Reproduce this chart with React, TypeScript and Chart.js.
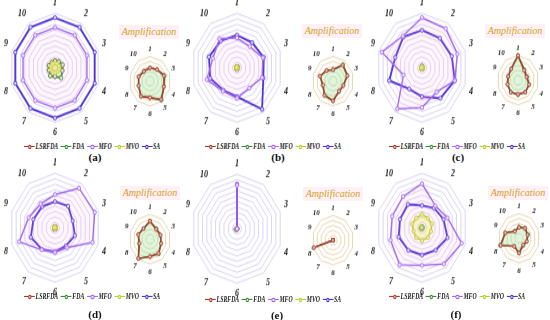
import React, { useEffect, useRef } from "react";
import { Chart, registerables } from "chart.js";
Chart.register(...registerables);

const AXES = ["1", "2", "3", "4", "5", "6", "7", "8", "9", "10"];
const SERIES = ["LSRFDA", "FDA", "MFO", "MVO", "SA"];
const TAGS = ["(a)", "(b)", "(c)", "(d)", "(e)", "(f)"];
const AMP_TITLE = "Amplification";

// (a)
const LSRFDA_A = [1.3, 1.4, 1.7, 1.7, 2.2, 1.6, 1.8, 1.4, 1.4, 1.2];
const FDA_A = [1.3, 1.4, 1.8, 1.7, 2.3, 1.6, 1.8, 1.4, 1.4, 1.2];
const MFO_A = [7.4, 7.4, 7.4, 7.4, 7.4, 7.4, 7.4, 7.4, 7.4, 7.4];
const MVO_A = [0.9, 0.9, 0.9, 0.9, 0.9, 0.9, 0.9, 0.9, 0.9, 0.9];
const SA_A = [9.2, 9.2, 9.2, 9.2, 9.2, 9.2, 9.2, 9.2, 9.2, 9.2];
const AMP_A = 2.4;
// (b)
const LSRFDA_B = [0.14, 0.24, 0.22, 0.16, 0.15, 0.24, 0.21, 0.15, 0.2, 0.16];
const FDA_B = [0.14, 0.25, 0.22, 0.16, 0.15, 0.24, 0.21, 0.16, 0.2, 0.16];
const MFO_B = [5.5, 4.8, 6.0, 5.8, 4.6, 5.6, 5.3, 7.0, 5.6, 6.6];
const MVO_B = [0.15, 0.15, 0.15, 0.15, 0.15, 0.15, 0.15, 0.15, 0.15, 0.15];
const SA_B = [6.0, 5.7, 6.2, 6.1, 9.4, 5.3, 5.1, 6.2, 6.5, 6.1];
const AMP_B = 0.3;
// (c)
const LSRFDA_C = [0.3, 0.15, 0.13, 0.17, 0.18, 0.17, 0.18, 0.16, 0.15, 0.17];
const FDA_C = [0.3, 0.16, 0.14, 0.17, 0.18, 0.18, 0.18, 0.16, 0.15, 0.17];
const MFO_C = [9.2, 8.9, 8.2, 7.6, 5.5, 7.3, 9.3, 4.3, 9.3, 7.2];
const MVO_C = [0.15, 0.15, 0.15, 0.15, 0.15, 0.15, 0.15, 0.15, 0.15, 0.15];
const SA_C = [6.9, 6.7, 6.9, 7.6, 6.9, 5.3, 4.8, 7.6, 6.2, 7.0];
const AMP_C = 0.3;
// (d)
const LSRFDA_D = [0.22, 0.15, 0.16, 0.17, 0.21, 0.21, 0.29, 0.16, 0.18, 0.16];
const FDA_D = [0.22, 0.16, 0.16, 0.17, 0.22, 0.21, 0.29, 0.17, 0.18, 0.16];
const MFO_D = [6.1, 9.0, 9.2, 8.7, 4.5, 4.5, 5.0, 8.3, 6.1, 5.4];
const MVO_D = [0.15, 0.15, 0.15, 0.15, 0.15, 0.15, 0.15, 0.15, 0.15, 0.15];
const SA_D = [4.8, 4.9, 4.1, 4.6, 4.1, 4.4, 4.9, 5.6, 5.0, 4.8];
const AMP_D = 0.3;
// (e)
const LSRFDA_E = [0, 0, 0, 0, 0, 0, 0, 0.29, 0, 0];
const FDA_E = [0, 0, 0, 0, 0, 0, 0, 0.3, 0, 0];
const MFO_E = [8.0, 0, 0, 0, 0, 0, 0, 0, 0, 0];
const MVO_E = [0.1, 0.1, 0.1, 0.1, 0.1, 0.1, 0.1, 0.1, 0.1, 0.1];
const SA_E = [8.2, 0, 0, 0, 0, 0, 0, 0, 0, 0];
const AMP_E = 0.3;
// (f)
const LSRFDA_F = [0.13, 0.15, 0.13, 0.12, 0.1, 0.18, 0.12, 0.28, 0.21, 0.1];
const FDA_F = [0.14, 0.15, 0.14, 0.12, 0.11, 0.18, 0.12, 0.29, 0.21, 0.11];
const MFO_F = [8.1, 5.0, 5.9, 9.2, 8.2, 6.9, 8.4, 7.3, 6.9, 7.1];
const MVO_F = [2.5, 2.2, 2.3, 2.1, 2.2, 2.4, 2.2, 2.0, 2.3, 2.2];
const SA_F = [4.1, 4.5, 5.0, 5.9, 5.1, 5.0, 5.1, 5.4, 5.1, 5.3];
const AMP_F = 0.3;

const COLORS: Record<string, { line: string; point: string; fill: string }> = {
  LSRFDA: { line: "#a5402c", point: "#ffb8cc", fill: "rgba(0,0,0,0)" },
  FDA: { line: "#3d8a3a", point: "#e4f7e0", fill: "rgba(160,225,160,0.35)" },
  MFO: { line: "#a46af2", point: "#efe2ff", fill: "rgba(255,170,230,0.11)" },
  MVO: { line: "#b9cf3a", point: "#fff27a", fill: "rgba(235,240,110,0.4)" },
  SA: { line: "#5433d6", point: "#dcd4ff", fill: "rgba(0,0,0,0)" },
};

const PANELS = [
  { d: { LSRFDA: LSRFDA_A, FDA: FDA_A, MFO: MFO_A, MVO: MVO_A, SA: SA_A }, amp: AMP_A, main: [55, 68], small: [150, 82], title: [149, 32], legend: [24, 147], tag: [95, 157] },
  { d: { LSRFDA: LSRFDA_B, FDA: FDA_B, MFO: MFO_B, MVO: MVO_B, SA: SA_B }, amp: AMP_B, main: [237, 68], small: [333, 82], title: [332, 31], legend: [205, 147], tag: [278, 157] },
  { d: { LSRFDA: LSRFDA_C, FDA: FDA_C, MFO: MFO_C, MVO: MVO_C, SA: SA_C }, amp: AMP_C, main: [422, 68], small: [518, 81], title: [515, 31], legend: [389, 147], tag: [458, 157] },
  { d: { LSRFDA: LSRFDA_D, FDA: FDA_D, MFO: MFO_D, MVO: MVO_D, SA: SA_D }, amp: AMP_D, main: [55, 228], small: [150, 240], title: [150, 193], legend: [24, 297], tag: [95, 314] },
  { d: { LSRFDA: LSRFDA_E, FDA: FDA_E, MFO: MFO_E, MVO: MVO_E, SA: SA_E }, amp: AMP_E, main: [237, 229], small: [333, 241], title: [333, 194], legend: [205, 300], tag: [277, 315] },
  { d: { LSRFDA: LSRFDA_F, FDA: FDA_F, MFO: MFO_F, MVO: MVO_F, SA: SA_F }, amp: AMP_F, main: [422, 228], small: [519, 239], title: [518, 193], legend: [389, 297], tag: [456, 314] },
];

const SERIF = '"Liberation Serif", "DejaVu Serif", serif';
const STRETCH = 1.2;

function makeDataset(name: string, data: number[], small: boolean) {
  const c = COLORS[name];
  const fill = name === "MFO" || name === "MVO" || name === "FDA";
  return {
    label: name,
    data,
    borderColor: c.line,
    backgroundColor: c.fill,
    pointBackgroundColor: c.point,
    pointBorderColor: c.line,
    pointBorderWidth: 0.8,
    pointRadius: small ? 1.5 : 1.7,
    borderWidth: name === "SA" ? 1.8 : 1.4,
    fill,
  };
}

function Radar(props: { cx: number; cy: number; size: number; datasets: any[]; max: number; rings: number; grid: string; fontSize: number; pad: number }) {
  const ref = useRef<HTMLCanvasElement | null>(null);
  const { cx, cy, size, datasets, max, rings, grid, fontSize, pad } = props;
  useEffect(() => {
    const chart = new Chart(ref.current as HTMLCanvasElement, {
      type: "radar",
      data: { labels: AXES, datasets },
      options: {
        responsive: false,
        animation: false,
        maintainAspectRatio: false,
        layout: { padding: 0 },
        plugins: { legend: { display: false }, tooltip: { enabled: false } },
        elements: { line: { tension: 0 } },
        scales: {
          r: {
            min: 0,
            max,
            ticks: { display: false, count: rings + 1 },
            grid: { color: grid, lineWidth: 0.9 },
            angleLines: { display: false },
            pointLabels: {
              padding: pad,
              color: "#222",
              font: { family: SERIF, size: fontSize, style: "italic", weight: "bold" },
            },
          },
        },
      } as any,
    });
    return () => chart.destroy();
  }, []);
  return (
    <div
      style={{
        position: "absolute",
        left: cx - size / 2,
        top: cy - (size * STRETCH) / 2,
        width: size,
        height: size,
        transform: `scale(1, ${STRETCH})`,
        transformOrigin: "0 0",
      }}
    >
      <canvas ref={ref} width={size} height={size} style={{ display: "block", width: size, height: size }} />
    </div>
  );
}

function Legend({ x, y }: { x: number; y: number }) {
  return (
    <div
      style={{
        position: "absolute",
        left: x,
        top: y - 5,
        height: 10,
        display: "flex",
        alignItems: "center",
        whiteSpace: "nowrap",
        transform: "scale(0.83, 1.1)",
        transformOrigin: "0 50%",
      }}
    >
      {SERIES.map((s) => (
        <span key={s} style={{ display: "inline-flex", alignItems: "center", marginRight: 3 }}>
          <span style={{ position: "relative", width: 13, height: 6, display: "inline-block" }}>
            <span style={{ position: "absolute", left: 0, right: 0, top: 2.4, borderTop: `1.3px solid ${COLORS[s].line}` }} />
            <span style={{ position: "absolute", left: 4.5, top: 1, width: 2.4, height: 2.4, borderRadius: "50%", border: `0.9px solid ${COLORS[s].line}`, background: COLORS[s].point }} />
          </span>
          <span style={{ fontFamily: SERIF, fontSize: 7, fontStyle: "italic", fontWeight: "bold", color: "#222", marginLeft: 1 }}>{s}</span>
        </span>
      ))}
    </div>
  );
}

export default function App() {
  return (
    <div style={{ position: "absolute", left: 0, top: 0, width: 550, height: 320, background: "#fff", overflow: "hidden" }}>
      {PANELS.map((p, i) => {
        const mainSets = ["MFO", "SA", "MVO", "FDA", "LSRFDA"].map((n) => makeDataset(n, (p.d as any)[n], false));
        const ampSets = ["LSRFDA", "FDA"].map((n) => makeDataset(n, (p.d as any)[n], true));
        return (
          <React.Fragment key={i}>
            <Radar cx={p.main[0]} cy={p.main[1]} size={118} datasets={mainSets} max={10} rings={10} grid="#d6cff3" fontSize={8} pad={4} />
            <Radar cx={p.small[0]} cy={p.small[1]} size={63} datasets={ampSets} max={p.amp} rings={5} grid="#e8d2aa" fontSize={7} pad={2} />
            <div
              style={{
                position: "absolute",
                left: p.title[0] - 30,
                top: p.title[1] - 7,
                width: 60,
                height: 14,
                lineHeight: "14px",
                textAlign: "center",
                fontFamily: SERIF,
                fontStyle: "italic",
                fontSize: 10,
                color: "#cfa01c",
                background: "rgba(255,228,236,0.55)",
              }}
            >
              {AMP_TITLE}
            </div>
            <Legend x={p.legend[0]} y={p.legend[1]} />
            <div
              style={{
                position: "absolute",
                left: p.tag[0] - 15,
                top: p.tag[1] - 7,
                width: 30,
                textAlign: "center",
                fontFamily: SERIF,
                fontWeight: "bold",
                fontSize: 11,
                lineHeight: "14px",
                color: "#111",
              }}
            >
              {TAGS[i]}
            </div>
          </React.Fragment>
        );
      })}
    </div>
  );
}
